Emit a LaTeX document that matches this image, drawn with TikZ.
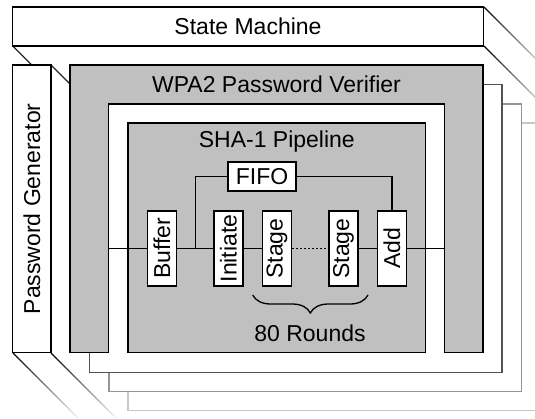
\documentclass[tikz,border=0pt]{standalone}
\usepackage{fontspec}
\setmainfont{Liberation Sans}
\usetikzlibrary{decorations.pathreplacing}
\definecolor{boxgray}{HTML}{C0C0C0}

\begin{document}
\begin{tikzpicture}[x=1pt,y=-1pt]
\tikzstyle{every node}=[font=\fontsize{23}{27}\selectfont]
\tikzstyle{wire}=[black, line width=1.3pt]
\tikzstyle{block}=[draw=black, fill=white, line width=1.3pt, inner sep=0pt]
\tikzstyle{unit}=[block, rotate=90, minimum width=75pt, minimum height=29pt]
\useasboundingbox (0,0) rectangle (535,418);
\foreach \xa/\ya in {484/7, 484/46, 13/353, 51/353}
  \foreach \i in {0,...,21} {
    \pgfmathsetmacro\p{max(5,100-4.5*\i)}
    \draw [line width=1.2pt, black!\p] (\xa+3*\i,\ya+3*\i) -- ++(3,3);
  }
\draw [wire, black!85] (12.7,46) -- (40,73.3);
\draw [wire, black!85] (51,65) -- (75,89);
\draw [line width=1.2pt, black!22, fill=white] (128,123) rectangle (545,410.7);
\draw [line width=1.2pt, black!42, fill=white] (109,104) rectangle (521.7,391.7);
\draw [line width=1.2pt, black!68, fill=white] (89.3,84.3) rectangle (502,372.3);
\draw [wire, fill=boxgray] (70,65) -- (483,65) -- (483,352.7) -- (444.3,352.7)
  -- (444.3,104) -- (108.7,104) -- (108.7,352.7) -- (70,352.7) -- cycle;
\draw [wire, fill=boxgray] (128,123) rectangle (425.6,352.7);
\node [block, minimum width=470.6pt, minimum height=39pt] (statem) at (248,26.5) {State Machine};
\node [block, rotate=90, minimum width=287.7pt, minimum height=38.3pt] (pwdgen) at (31.85,208.85) {Password Generator};
\node (verifier) at (276.5,84.5) {WPA2 Password Verifier};
\node (pipeline) at (276.8,142) {SHA-1 Pipeline};
\node [block, minimum width=68pt, minimum height=29pt] (fifo) at (262,176.5) {FIFO};
\node [unit] (buffer) at (162,248.5) {Buffer};
\node [unit] (initiate) at (228.5,248.5) {Initiate};
\node [unit] (stageA) at (277,248.5) {Stage};
\node [unit] (stageB) at (343.5,248.5) {Stage};
\node [unit] (add) at (392,248.5) {Add};
\coordinate (lin) at (108.7,248.5);
\coordinate (rout) at (444.3,248.5);
\coordinate (tap) at (195.6,248.5);
\draw [wire] (lin) -- (buffer) -- (initiate) -- (stageA);
\draw [wire, dash pattern=on 2pt off 2pt] (stageA) -- (stageB);
\draw [wire] (stageB) -- (add) -- (rout);
\draw [wire] (fifo) -| (tap);
\draw [wire] (fifo) -| (add);
\draw [wire, decorate, decoration={brace, mirror, amplitude=18pt}] (252.7,295) -- (368,295);
\node (rounds) at (310,333) {80 Rounds};
\end{tikzpicture}
\end{document}
